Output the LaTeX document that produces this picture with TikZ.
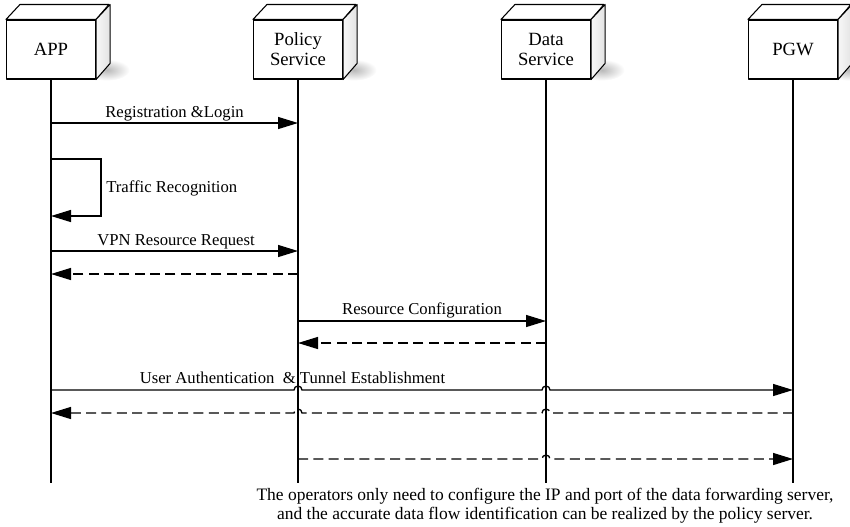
\documentclass[tikz,border=0pt]{standalone}
\usepackage{fontspec}
\setmainfont{Liberation Serif}
\usetikzlibrary{arrows.meta,calc}
\newcommand\mycube[3]{%
  \shade[inner color=gray!55, outer color=white] (#2+56,70) ellipse [x radius=17pt, y radius=8pt];
  \node[boxlbl] (#1) at (#2,49.5) {#3};
  \draw[boxline, fill=white] (#1.north west) -- ++(14,-15) -- ++(89,0) -- (#1.north east) -- cycle;
  \draw[boxline, left color=gray!6, right color=gray!22] (#1.north east) -- ++(14,-15) -- ++(0,59) -- (#1.south east) -- cycle;
}
\begin{document}
\begin{tikzpicture}[x=0.75pt,y=-0.75pt,
  lbl/.style={font=\fontsize{12.5}{15}\selectfont, inner sep=0pt},
  boxline/.style={line width=0.8pt, line join=round},
  boxlbl/.style={font=\fontsize{14}{15}\selectfont, align=center, minimum width=66.75pt, minimum height=44.25pt, draw, fill=white, boxline, inner sep=0pt},
  life/.style={line width=1pt},
  msg/.style={line width=1pt, -{Triangle[length=15pt,width=9pt]}},
  ret/.style={msg, dash pattern=on 7.5pt off 4pt}]
\useasboundingbox (0,0) rectangle (850,526);
\mycube{app}{51}{APP}
\mycube{pol}{298}{Policy\\Service}
\mycube{dat}{546}{Data\\Service}
\mycube{pgw}{793}{PGW}
\foreach \n in {app,pol,dat,pgw} \draw[life] (\n.south) -- ++(0,403) coordinate (\n-end);

% Registration & Login
\coordinate (a1) at (app |- 0,123);
\coordinate (p1) at (pol |- 0,123);
\draw[msg] (a1) -- (p1);
\node[lbl, anchor=base] (l1) at (174.5,117) {Registration \&Login};

% Traffic recognition self loop
\coordinate (a2) at (app |- 0,159);
\coordinate (a3) at (app |- 0,216);
\draw[msg] (a2) -- ++(50,0) -- ++(0,57) -- (a3);
\node[lbl, anchor=base west] (l2) at (106,192) {Traffic Recognition};

% VPN resource request
\coordinate (a4) at (app |- 0,251);
\coordinate (p4) at (pol |- 0,251);
\draw[msg] (a4) -- (p4);
\node[lbl, anchor=base] (l4) at (176,245) {VPN Resource Request};
\coordinate (p5) at (pol |- 0,274);
\coordinate (a5) at (app |- 0,274);
\draw[ret] (p5) -- (a5);

% Resource configuration
\coordinate (p6) at (pol |- 0,321);
\coordinate (d6) at (dat |- 0,321);
\draw[msg] (p6) -- (d6);
\node[lbl, anchor=base] (l6) at (422,314) {Resource Configuration};
\coordinate (d7) at (dat |- 0,343);
\coordinate (p7) at (pol |- 0,343);
\draw[ret] (d7) -- (p7);

% User authentication & tunnel establishment
\coordinate (a8) at (app |- 0,390);
\coordinate (g8) at (pgw |- 0,390);
\draw[msg] (a8) -- ($(pol |- 0,390)+(-4,0)$) arc[start angle=180, end angle=0, radius=3pt]
  -- ($(dat |- 0,390)+(-4,0)$) arc[start angle=180, end angle=0, radius=3pt] -- (g8);
\node[lbl, anchor=base] (l8) at (292.5,383) {User Authentication\ \ \& Tunnel Establishment};
\coordinate (g9) at (pgw |- 0,413);
\coordinate (a9) at (app |- 0,413);
\draw[ret] (g9) -- ($(dat |- 0,413)+(4,0)$) arc[start angle=0, end angle=180, radius=3pt]
  -- ($(pol |- 0,413)+(4,0)$) arc[start angle=0, end angle=180, radius=3pt] -- (a9);

% Policy -> PGW
\coordinate (p10) at (pol |- 0,459);
\coordinate (g10) at (pgw |- 0,459);
\draw[ret] (p10) -- ($(dat |- 0,459)+(-4,0)$) arc[start angle=180, end angle=0, radius=3pt] -- (g10);

% Note
\node[lbl, align=center, font=\fontsize{13.1}{14.25}\selectfont] (note) at (545,505.5)
  {The operators only need to configure the IP and port of the data forwarding server,\\
   and the accurate data flow identification can be realized by the policy server.};
\end{tikzpicture}
\end{document}
